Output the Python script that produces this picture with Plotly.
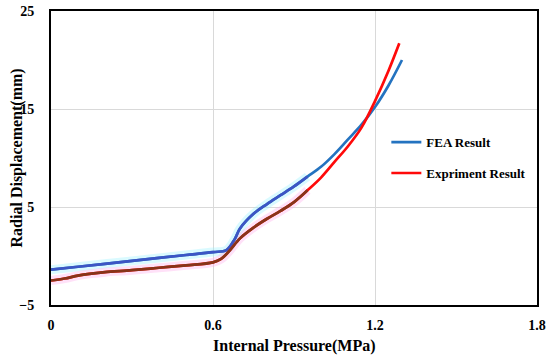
import plotly.graph_objects as go

# Data
fea_x = [0, 0.1, 0.2, 0.3, 0.4, 0.5, 0.6, 0.65, 0.68, 0.7, 0.75, 0.8, 0.85, 0.9, 0.95,
         1.0, 1.05, 1.1, 1.15, 1.2, 1.25, 1.3]
fea_y = [-1.4, -1.1, -0.8, -0.5, -0.2, 0.1, 0.4, 0.6, 1.7, 2.8, 4.3, 5.3, 6.2, 7.1, 8.1,
         9.1, 10.4, 11.9, 13.4, 15.2, 17.4, 20.0]

exp_x = [0, 0.05, 0.1, 0.15, 0.2, 0.3, 0.4, 0.5, 0.6, 0.63, 0.66, 0.7, 0.75, 0.8, 0.85,
         0.9, 0.95, 1.0, 1.05, 1.1, 1.15, 1.2, 1.25, 1.29]
exp_y = [-2.5, -2.3, -2.0, -1.8, -1.65, -1.45, -1.2, -0.95, -0.65, -0.3, 0.5, 1.8, 2.9,
         3.8, 4.6, 5.5, 6.7, 8.0, 9.6, 11.2, 13.1, 15.8, 18.9, 21.7]

x_ticks = [0, 0.6, 1.2, 1.8]
y_ticks = [-5, 5, 15, 25]

FONT = "Liberation Serif, Times New Roman, serif"

fig = go.Figure()

lo_fx = [x for x in fea_x if x <= 0.95]
lo_fy = fea_y[:len(lo_fx)]
lo_ex = [x for x in exp_x if x <= 0.95]
lo_ey = exp_y[:len(lo_ex)]
fig.add_trace(go.Scatter(x=lo_fx, y=lo_fy, mode="lines", line=dict(color="rgba(150,240,255,0.35)", width=9, shape="spline"),
                         showlegend=False, hoverinfo="skip"))
fig.add_trace(go.Scatter(x=lo_ex, y=lo_ey, mode="lines", line=dict(color="rgba(255,170,235,0.35)", width=9, shape="spline"),
                         showlegend=False, hoverinfo="skip"))

fig.add_trace(go.Scatter(x=fea_x, y=fea_y, mode="lines", name="FEA Result", legendgroup="fea",
                         line=dict(color="#2473c0", width=2.7, shape="spline")))
fig.add_trace(go.Scatter(x=lo_fx, y=lo_fy, mode="lines", line=dict(color="#3c55c4", width=2.7, shape="spline"),
                         showlegend=False, hoverinfo="skip"))
fig.add_trace(go.Scatter(x=exp_x, y=exp_y, mode="lines", name="Expriment Result", legendgroup="exp",
                         line=dict(color="#ff0a0a", width=2.7, shape="spline")))
fig.add_trace(go.Scatter(x=lo_ex, y=lo_ey, mode="lines", line=dict(color="#86351a", width=2.7, shape="spline"),
                         showlegend=False, hoverinfo="skip"))

fig.update_layout(
    width=550, height=362,
    margin=dict(l=51, r=13, t=11, b=57, autoexpand=False),
    paper_bgcolor="white", plot_bgcolor="white",
    font=dict(family=FONT, color="black", size=14, weight="bold"),
    legend=dict(x=0.69, y=0.605, xanchor="left", yanchor="top", bgcolor="rgba(0,0,0,0)",
                font=dict(family=FONT, size=13, weight="bold"), tracegroupgap=11, itemwidth=30),
    xaxis=dict(range=[0, 1.8], tickvals=x_ticks, ticktext=[str(v) for v in x_ticks],
               showgrid=True, gridcolor="#d9d9d9", gridwidth=1, zeroline=False,
               showline=True, linecolor="black", linewidth=2, mirror=True, ticks="",
               ticklabelstandoff=6, automargin=False),
    yaxis=dict(range=[-5, 25], tickvals=y_ticks,
               showgrid=True, gridcolor="#d9d9d9", gridwidth=1, zeroline=False,
               showline=True, linecolor="black", linewidth=2, mirror=True, ticks="",
               ticklabelstandoff=12, automargin=False),
    annotations=[
        dict(text="Internal Pressure(MPa)", xref="paper", yref="paper", x=0.5, y=-0.14,
             xanchor="center", yanchor="middle", showarrow=False,
             font=dict(family=FONT, size=16, weight="bold", color="black")),
        dict(text="Radial Displacement(mm)", xref="paper", yref="paper", x=-0.069, y=0.5,
             xanchor="center", yanchor="middle", showarrow=False, textangle=-90,
             font=dict(family=FONT, size=16, weight="bold", color="black")),
    ],
)

fig.write_html("out.html", config={"displayModeBar": False},
               post_script="document.body.style.margin='0';document.body.style.overflow='hidden';")
